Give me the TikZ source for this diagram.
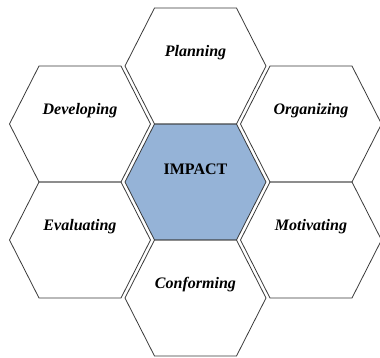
\documentclass[tikz,border=0pt]{standalone}
\usepackage{fontspec}
\setmainfont{Liberation Serif}
\definecolor{impactblue}{HTML}{95B3D7}
\definecolor{hexgray}{HTML}{3A3A3A}
\tikzset{
	hexline/.style={draw=hexgray, line width=0.6pt, line join=miter},
	hexlabel/.style={font=\fontsize{12}{14}\selectfont\bfseries\itshape, inner sep=1pt},
}
\begin{document}
\begin{tikzpicture}[x=0.02632cm, y=-0.02632cm]
	\useasboundingbox (0,0) rectangle (380,358);
	%centre cell
	\filldraw[hexline, fill=impactblue] (125,182) -- (154.5,124) -- (236.5,124)
		-- (266,182) -- (236.5,240) -- (154.5,240) -- cycle;
	\node[hexlabel, font=\fontsize{12}{14}\selectfont\bfseries] (impact) at (195.5,169) {IMPACT};
	%outer cells
	\foreach \cx/\cy/\name/\txt in {195.5/66/plan/Planning, 80/124/dev/Developing,
		311/124/org/Organizing, 80/240/eval/Evaluating,
		311/240/mot/Motivating, 195.5/298/conf/Conforming}
	{
		\draw[hexline] (\cx-70.5,\cy) -- (\cx-41,\cy-58) -- (\cx+41,\cy-58)
			-- (\cx+70.5,\cy) -- (\cx+41,\cy+58) -- (\cx-41,\cy+58) -- cycle;
		\node[hexlabel] (\name) at (\cx,\cy-13) {\txt};
	}
\end{tikzpicture}
\end{document}
